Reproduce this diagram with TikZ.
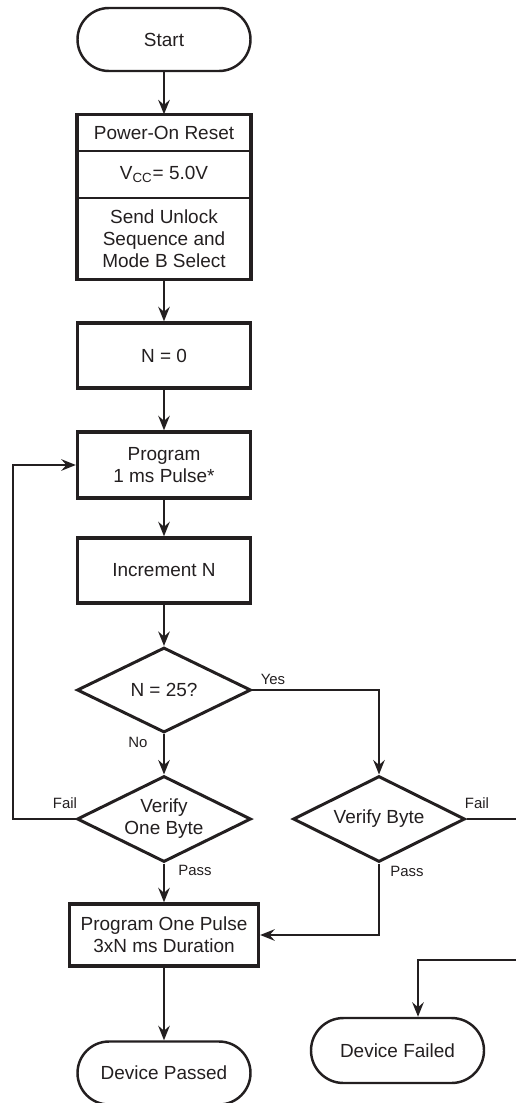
\documentclass[tikz,border=0pt]{standalone}
\usepackage{fontspec}
\setmainfont{Liberation Sans}
\usetikzlibrary{arrows.meta,shapes.geometric,calc}
\definecolor{ink}{HTML}{231F20}

\begin{document}
\begin{tikzpicture}[>={Stealth[length=2.9mm,width=2.3mm,inset=1mm]},
    font=\fontsize{10.8}{12.5}\selectfont, text=ink]

    % Styles
    \tikzset{
        term/.style={draw=ink, line width=1.4pt, rounded corners=6.3mm,
            minimum width=3.46cm, minimum height=1.26cm},
        stepbox/.style={draw=ink, line width=1.9pt, minimum width=3.46cm,
            minimum height=1.3cm, align=center},
        part/.style={draw=ink, line width=0.7pt, minimum width=3.46cm,
            inner sep=0pt, align=center},
        test/.style={diamond, aspect=2, draw=ink, line width=1.7pt, minimum width=3.48cm,
            minimum height=1.72cm, inner sep=0pt, align=center},
        flow/.style={draw=ink, line width=1.3pt, ->},
        lbl/.style={font=\fontsize{8.5}{10}\selectfont}
    }

    \useasboundingbox (0,0) rectangle (10.3,-22.06);

    % Main column
    \node[term] (start) at (3.28,-0.79) {Start};

    \node[part, minimum height=0.72cm] (por) at (3.28,-2.66) {Power-On Reset};
    \node[part, minimum height=0.94cm] (vcc) at (3.28,-3.49) {V\textsubscript{CC}= 5.0V};
    \node[part, minimum height=1.62cm] (unlock) at (3.28,-4.77)
        {Send Unlock\\Sequence and\\Mode B Select};
    \draw[ink, line width=1.9pt] (por.north west) rectangle (unlock.south east);

    \node[stepbox] (nzero) at (3.28,-7.11) {N = 0};
    \node[stepbox, minimum height=1.32cm] (prog) at (3.28,-9.30) {Program\\1 ms Pulse*};
    \node[stepbox] (incr) at (3.28,-11.41) {Increment N};

    % Decisions
    \node[test, minimum height=1.70cm] (ntest) at (3.28,-13.80) {N = 25?};
    \node[test] (vone) at (3.28,-16.38) {Verify\\One Byte};
    \node[test, minimum width=3.44cm] (vbyte) at (7.58,-16.38) {Verify Byte};

    % Final steps
    \node[stepbox, minimum width=3.78cm, minimum height=1.24cm] (pulse) at (3.28,-18.70)
        {Program One Pulse\\3xN ms Duration};
    \node[term] (passed) at (3.28,-21.46) {Device Passed};
    \node[term, minimum height=1.30cm, rounded corners=6.5mm] (failed) at (7.95,-21.01) {Device Failed};

    % Connectors
    \draw[flow] (start) -- (por);
    \draw[flow] (unlock) -- (nzero);
    \draw[flow] (nzero) -- (prog);
    \draw[flow] (prog) -- (incr);
    \draw[flow] (incr) -- (ntest);
    \draw[flow] (ntest) -- (vone);
    \draw[flow] (vone) -- (pulse);
    \draw[flow] (pulse) -- (passed);
    \draw[flow] (ntest.east) -| (vbyte.north);
    \draw[flow] (vone.west) -- (0.26,-16.38) |- (prog.west);
    \draw[flow] (vbyte.south) |- (pulse.east);
    \draw[flow] (vbyte.east) -- (10.8,-16.38) -- (10.8,-19.20) -| ([xshift=0.41cm]failed.north);

    % Labels
    \node[lbl] (yes) at (5.46,-13.58) {Yes};
    \node[lbl] (no) at (2.76,-14.84) {No};
    \node[lbl] (failone) at (1.30,-16.06) {Fail};
    \node[lbl] (failtwo) at (9.54,-16.06) {Fail};
    \node[lbl] (passone) at (3.90,-17.40) {Pass};
    \node[lbl] (passtwo) at (8.14,-17.42) {Pass};

\end{tikzpicture}
\end{document}
